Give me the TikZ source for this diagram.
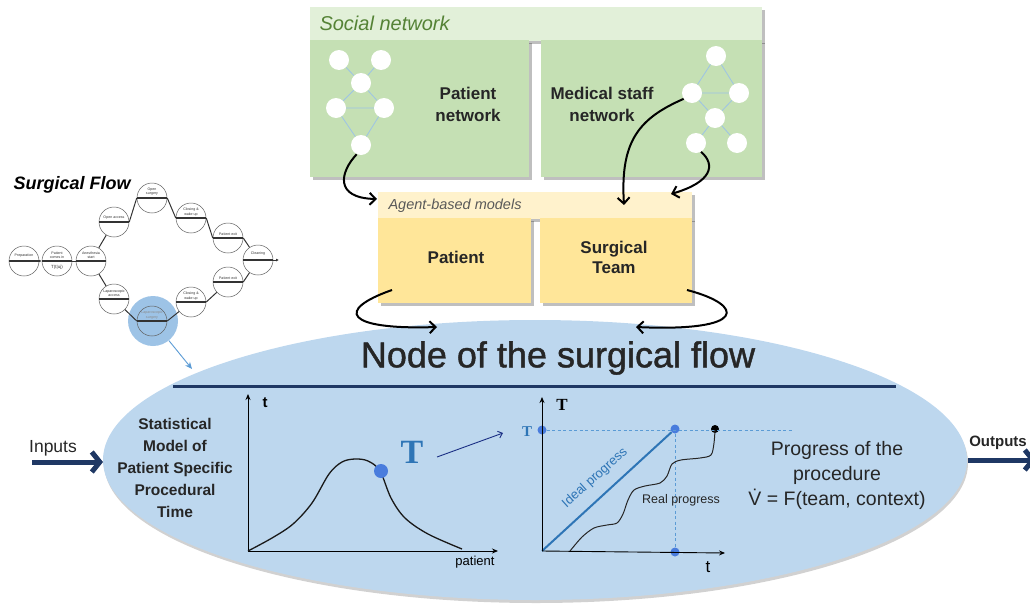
\documentclass[tikz,border=0pt]{standalone}
\usepackage{fontspec}
\setmainfont{Liberation Sans}
\newfontfamily\serifT{Liberation Serif}
\newfontfamily\semib[FakeBold=1.2]{Liberation Sans}
\usetikzlibrary{arrows.meta,shapes.geometric,shadows}
\definecolor{hdrgreen}{HTML}{E2F0D9}
\definecolor{boxgreen}{HTML}{C5E0B4}
\definecolor{txtgreen}{HTML}{548235}
\definecolor{hdryellow}{HTML}{FFF2CC}
\definecolor{boxyellow}{HTML}{FFE699}
\definecolor{ellblue}{HTML}{BDD7EE}
\definecolor{navy}{HTML}{1F3864}
\definecolor{midblue}{HTML}{2E75B6}
\definecolor{ltblue}{HTML}{5B9BD5}
\definecolor{edgeblue}{HTML}{9DC3E6}
\definecolor{hlblue}{HTML}{9DC3E6}
\tikzset{
  myshadow/.style={drop shadow={shadow xshift=2.5pt,shadow yshift=-2.5pt,fill=black,opacity=0.25}},
  panel/.style={draw=none,inner sep=0,anchor=north west,myshadow},
  netnode/.style={circle,fill=white,draw=none,minimum size=20,inner sep=0},
  netedge/.style={edgeblue,line width=0.8},
  flow/.style={circle,draw=gray!75!black,line width=0.5,fill=white,minimum size=30,inner sep=0},
  flowlink/.style={draw=black!80,line width=1},
  flowtxt/.style={font=\fontsize{3.6}{4.2}\selectfont,align=center,text=black!80,inner sep=0},
  curvearrow/.style={line width=2,-{Straight Barb[length=6pt,width=12pt]}},
  navyarrow/.style={navy,line width=5,-{Straight Barb[length=8pt,width=20pt]}},
  axis/.style={line width=0.9,-{Stealth[length=6pt,width=5pt]}},
  bigtxt/.style={font=\fontsize{17}{22}\selectfont\bfseries,align=center,text=black!85},
}
\begin{document}
\begin{tikzpicture}[x=1pt,y=-1pt]
\useasboundingbox (0,0) rectangle (1030,605);
\clip (0,0) rectangle (1030,605);

% ---------- Social network ----------
\node[panel,fill=hdrgreen,minimum width=452,minimum height=34] (snhdr) at (310,7) {};
\node[panel,fill=boxgreen,minimum width=219,minimum height=137] (pbox) at (310,40) {};
\node[panel,fill=boxgreen,minimum width=221,minimum height=137] (mbox) at (541,40) {};
\node[anchor=west,text=txtgreen,font=\fontsize{20}{24}\selectfont\itshape] (sntitle) at (316,23) {Social network};

% patient network
\node[netnode] (pn1) at (339,60) {};
\node[netnode] (pn2) at (381,60) {};
\node[netnode] (pn3) at (361,83) {};
\node[netnode] (pn4) at (336,108) {};
\node[netnode] (pn5) at (384,108) {};
\node[netnode] (pn6) at (361,145) {};
\draw[netedge] (pn1) -- (pn3) (pn2) -- (pn3) (pn3) -- (pn4) (pn3) -- (pn5) (pn4) -- (pn5) (pn4) -- (pn6) (pn5) -- (pn6);
\node[bigtxt] (pnet) at (468,104) {Patient\\network};

% medical staff network
\node[netnode] (mn1) at (716,56) {};
\node[netnode] (mn2) at (692,93) {};
\node[netnode] (mn3) at (739,93) {};
\node[netnode] (mn4) at (715,118) {};
\node[netnode] (mn5) at (696,143) {};
\node[netnode] (mn6) at (737,143) {};
\draw[netedge] (mn1) -- (mn2) (mn1) -- (mn3) (mn2) -- (mn3) (mn2) -- (mn4) (mn3) -- (mn4) (mn4) -- (mn5) (mn4) -- (mn6);
\node[bigtxt] (mnet) at (602,104) {Medical staff\\network};

% ---------- Agent-based models ----------
\node[panel,fill=hdryellow,minimum width=314,minimum height=27] (abhdr) at (378,192) {};
\node[panel,fill=boxyellow,minimum width=153,minimum height=85] (apat) at (378,218) {};
\node[panel,fill=boxyellow,minimum width=152,minimum height=85] (ateam) at (540,218) {};
\node[anchor=west,text=black!65,font=\fontsize{14.5}{17}\selectfont\itshape] (abtitle) at (385,206) {Agent-based models};
\node[bigtxt] (apattxt) at (456,257) {Patient};
\node[bigtxt,font=\fontsize{17}{20}\selectfont\bfseries] (ateamtxt) at (614,257) {Surgical\\Team};

% ---------- big ellipse ----------
\node[ellipse,fill=ellblue,draw=none,minimum width=864,minimum height=280,inner sep=0,
      drop shadow={shadow xshift=1pt,shadow yshift=-3pt,fill=black,opacity=0.18}] (ell) at (535,460) {};
\node[font=\semib\fontsize{36}{40}\selectfont,text=black!85] (title) at (558,358) {Node of the surgical flow};
\coordinate (rulel) at (173,386);
\coordinate (ruler) at (896,386);
\draw[navy,line width=3] (rulel) -- (ruler);

% ---------- curved arrows ----------
\coordinate (a1e) at (377,199);
\coordinate (a2e) at (624,205);
\coordinate (a3e) at (671,194);
\coordinate (a4s) at (392,290);
\coordinate (a4e) at (437,327);
\coordinate (a5s) at (687,290);
\coordinate (a5e) at (636,327);
\draw[curvearrow] (pn6.245) .. controls (340,172) and (334,198) .. (a1e);
\draw[curvearrow] (mn2.215) .. controls (640,118) and (620,140) .. (a2e);
\draw[curvearrow] (mn5.-60) .. controls (716,165) and (712,182) .. (a3e);
\draw[curvearrow] (a4s) .. controls (335,310) and (345,330) .. (a4e);
\draw[curvearrow] (a5s) .. controls (745,305) and (748,332) .. (a5e);

% ---------- Surgical flow ----------
\node[anchor=west,font=\fontsize{18}{20}\selectfont\bfseries\itshape] (sftitle) at (10,185) {Surgical Flow};
\node[circle,fill=hlblue,minimum size=50,inner sep=0] (hl) at (153,321) {};
\node[flow] (P1) at (24,261) {};
\node[flow] (P2) at (57,261) {};
\node[flow] (P3) at (91,261) {};
\node[flow] (A1) at (114,222) {};
\node[flow] (A2) at (152,198) {};
\node[flow] (A3) at (191,218) {};
\node[flow] (A4) at (228,238) {};
\node[flow] (C) at (258,260) {};
\node[flow] (B4) at (228,282) {};
\node[flow] (B3) at (191,302) {};
\node[flow,fill=none] (B2) at (152,321) {};
\node[flow] (B1) at (114,299) {};
\foreach \n in {P1,P2,P3,A1,A2,A3,A4,C,B4,B3,B2,B1}{
  \draw[black!80,line width=1.1] (\n.west) -- (\n.east);
}
\coordinate (cout) at (279,260);
\draw[flowlink,-{Latex[length=3pt,width=3pt]}] (P1.east) -- (P2.west);
\draw[flowlink] (P2.east) -- (P3.west);
\draw[flowlink] (P3) -- (A1);
\draw[flowlink] (A1.east) -- (A2.west);
\draw[flowlink] (A2.east) -- (A3.west);
\draw[flowlink] (A3.east) -- (A4.west);
\draw[flowlink] (A4.east) -- (C);
\draw[flowlink,-{Latex[length=3pt,width=3pt]}] (C.east) -- (cout);
\draw[flowlink] (P3) -- (B1);
\draw[flowlink] (B1) -- (B2.west);
\draw[flowlink] (B2.east) -- (B3);
\draw[flowlink] (B3.east) -- (B4);
\draw[flowlink] (B4.east) -- (C);
\node[flowtxt] (t1) at (24,256) {Preparation};
\node[flowtxt] (t2) at (57,255) {Patient\\comes in};
\node[flowtxt] (t2b) at (57,267) {\fontsize{4.5}{5}\selectfont T(t|uj)};
\node[flowtxt] (t3) at (91,255) {Anesthesia\\start};
\node[flowtxt] (t4) at (114,218) {Open access};
\node[flowtxt] (t5) at (152,192) {Open\\surgery};
\node[flowtxt] (t6) at (191,212) {Closing \&\\wake up};
\node[flowtxt] (t7) at (228,234) {Patient exit};
\node[flowtxt] (t8) at (258,254) {Cleaning};
\node[flowtxt] (t9) at (228,278) {Patient exit};
\node[flowtxt] (t10) at (191,296) {Closing \&\\wake up};
\node[flowtxt,text=black!45] (t11) at (152,315) {Laparoscopic\\surgery};
\node[flowtxt] (t12) at (114,293) {Laparoscopic\\access};
\coordinate (hlend) at (192,369);
\draw[ltblue,line width=0.9,-{Stealth[length=7pt,width=6pt]}] (hl) -- (hlend);

% ---------- Inputs / Outputs ----------
\node[font=\fontsize{17.5}{20}\selectfont,text=black!85] (inputs) at (53,448) {Inputs};
\coordinate (ins) at (32,462);
\coordinate (ine) at (103,462);
\draw[navyarrow] (ins) -- (ine);
\node[font=\fontsize{15}{18}\selectfont\bfseries,text=black!85] (outputs) at (998,443) {Outputs};
\coordinate (outs) at (968,460);
\coordinate (oute) at (1036,460);
\draw[navyarrow] (outs) -- (oute);

% ---------- left graph ----------
\node[font=\fontsize{15.5}{22}\selectfont\bfseries,align=center,text=black!85] (stat) at (175,468)
  {Statistical\\Model of\\Patient Specific\\Procedural\\Time};
\coordinate (o1) at (248,551);
\coordinate (y1) at (248,394);
\coordinate (x1) at (498,551);
\draw[axis] (o1) -- (y1);
\draw[axis] (o1) -- (x1);
\node[font=\fontsize{15}{18}\selectfont\bfseries] (t1lab) at (265,403) {t};
\node[font=\fontsize{13}{15}\selectfont] (plab) at (475,562) {patient};
\draw[line width=1.3,black!90] plot[smooth,tension=0.55] coordinates
  {(248,551) (272,538) (293,524) (312,503) (329,474) (342,462) (355,459) (368,461) (380,471) (391,498) (405,518) (428,534) (462,549)};
\node[circle,fill=ltblue!80!blue,minimum size=14,inner sep=0] (tdot) at (381,471) {};
\node[text=midblue,font=\serifT\bfseries\fontsize{34}{34}\selectfont] (bigT) at (412,452) {T};
\coordinate (tas) at (437,457);
\coordinate (tae) at (503,433);
\draw[navy!80!blue,line width=0.9,-{Straight Barb[length=4pt,width=7pt]}] (tas) -- (tae);

% ---------- right graph ----------
\coordinate (o2) at (542,551);
\coordinate (y2) at (542,397);
\coordinate (x2) at (725,553);
\node[circle,fill=ltblue!80!blue,minimum size=9,inner sep=0] (d1) at (542,430) {};
\node[circle,fill=ltblue!80!blue,minimum size=9,inner sep=0] (d2) at (675,429) {};
\node[circle,fill=ltblue!80!blue,minimum size=9,inner sep=0] (d3) at (675,552) {};
\node[circle,fill=black,minimum size=8,inner sep=0] (d4) at (715,429) {};
\coordinate (dashend) at (793,430);
\draw[ltblue,line width=0.9,dashed,dash pattern=on 3pt off 2.5pt] (d1) -- (dashend);
\draw[ltblue,line width=0.9,dashed,dash pattern=on 3pt off 2.5pt] (d2) -- (d3);
\draw[midblue,line width=2] (o2) -- (d2);
\draw[axis] (o2) -- (y2);
\draw[axis] (o2) -- (x2);
\draw[black!85,line width=1] plot[smooth,tension=0.5] coordinates
  {(570,551) (582,537) (594,528) (607,525) (617,523) (623,514) (628,500) (634,490) (645,486) (660,483) (667,476) (672,464) (681,460) (700,458) (711,455) (714,443) (715,430)};
\node[font=\serifT\bfseries\fontsize{17}{18}\selectfont] (Tax) at (562,405) {T};
\node[text=midblue,font=\serifT\bfseries\fontsize{15}{16}\selectfont] (Tleft) at (527,432) {T};
\node[font=\fontsize{17}{18}\selectfont] (tax2) at (708,567) {t};
\node[text=midblue,font=\fontsize{13}{15}\selectfont,rotate=42] (ideal) at (595,478) {Ideal progress};
\node[font=\fontsize{12.5}{15}\selectfont,text=black!85] (real) at (681,500) {Real progress};
\node[font=\fontsize{19.5}{25}\selectfont,align=center,text=black!85] (prog) at (837,475)
  {Progress of the\\procedure\\\.{V} = F(team, context)};
\end{tikzpicture}
\end{document}
